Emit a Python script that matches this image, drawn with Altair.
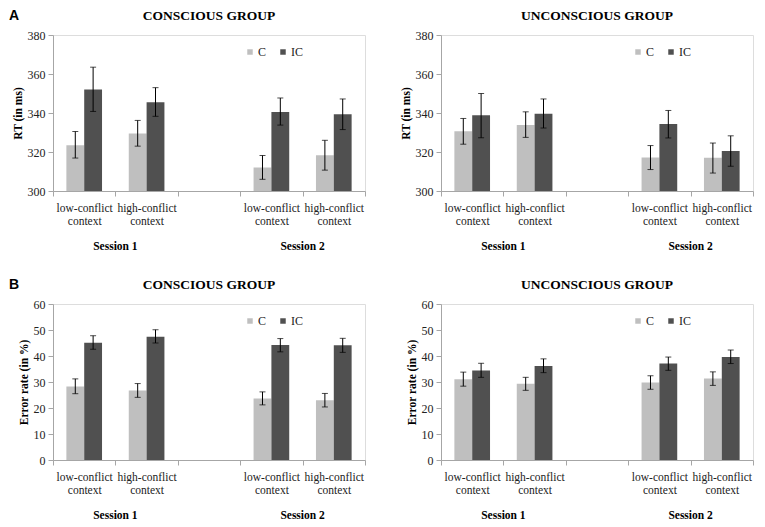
import altair as alt
import pandas as pd

# ---------------- data ----------------
ctx_keys = ["low-conflict context|S1", "high-conflict context|S1", "|gap",
            "low-conflict context|S2", "high-conflict context|S2"]
data_keys = ["low-conflict context|S1", "high-conflict context|S1",
             "low-conflict context|S2", "high-conflict context|S2"]
conds = ["C", "IC"]
sessions = ["Session 1", "Session 2"]
session_pos = ["high-conflict context|S1", "high-conflict context|S2"]

# RT conscious
rt_con_C = [323.5, 329.5, 312.0, 318.3]
rt_con_C_lo = [316.9, 323.0, 306.0, 310.7]
rt_con_C_hi = [330.5, 336.2, 318.2, 326.0]
rt_con_IC = [352.0, 345.5, 340.5, 339.3]
rt_con_IC_lo = [340.8, 338.3, 333.8, 331.5]
rt_con_IC_hi = [363.5, 353.0, 347.7, 347.2]

# RT unconscious
rt_unc_C = [330.6, 333.8, 317.2, 317.0]
rt_unc_C_lo = [324.0, 327.5, 311.0, 309.2]
rt_unc_C_hi = [337.2, 340.6, 323.3, 324.6]
rt_unc_IC = [338.8, 339.6, 334.3, 320.5]
rt_unc_IC_lo = [327.3, 332.3, 327.2, 312.7]
rt_unc_IC_hi = [350.0, 347.2, 341.3, 328.3]

# Error rate conscious
er_con_C = [28.3, 26.7, 23.7, 23.0]
er_con_C_lo = [25.5, 24.1, 21.2, 20.4]
er_con_C_hi = [31.2, 29.4, 26.2, 25.6]
er_con_IC = [45.1, 47.4, 44.2, 44.1]
er_con_IC_lo = [42.6, 45.0, 41.6, 41.4]
er_con_IC_hi = [47.8, 50.1, 46.7, 46.8]

# Error rate unconscious
er_unc_C = [31.1, 29.3, 29.8, 31.3]
er_unc_C_lo = [28.4, 26.8, 27.2, 28.7]
er_unc_C_hi = [33.8, 31.8, 32.4, 33.9]
er_unc_IC = [34.4, 36.2, 37.1, 39.6]
er_unc_IC_lo = [31.8, 33.6, 34.5, 37.1]
er_unc_IC_hi = [37.2, 38.9, 39.6, 42.3]

rt_ticks = [300, 320, 340, 360, 380]
er_ticks = [0, 10, 20, 30, 40, 50, 60]

# ---------------- styling ----------------
SERIF = "Liberation Serif"
W, H = 312, 156
GRAY = "#a6a6a6"
colors = ["#bfbfbf", "#505050"]


def panel(title, ytitle, ydom, yticks, C, Clo, Chi, IC, IClo, IChi, letter=None):
    rows = []
    for i, k in enumerate(data_keys):
        rows.append({"ctx": k, "cond": "C", "v": C[i], "lo": Clo[i], "hi": Chi[i]})
        rows.append({"ctx": k, "cond": "IC", "v": IC[i], "lo": IClo[i], "hi": IChi[i]})
    df = pd.DataFrame(rows)

    xaxis = alt.Axis(title=None, labelAngle=0, tickBand="extent",
                     labelExpr="split(split(datum.label, '|')[0], ' ')",
                     labelFont=SERIF, labelFontSize=11.5, labelColor="#222",
                     labelLineHeight=13, labelPadding=6,
                     domainColor=GRAY, tickColor=GRAY, tickSize=5)
    xscale = alt.Scale(domain=ctx_keys, paddingInner=0, paddingOuter=0)

    def xenc():
        return alt.X("ctx:N", scale=xscale, sort=ctx_keys, axis=xaxis)

    xoff = alt.XOffset("cond:N", scale=alt.Scale(domain=conds, paddingOuter=0.75, paddingInner=0))
    yscale = alt.Scale(domain=ydom, nice=False, zero=False)
    yaxis = alt.Axis(title=ytitle, values=yticks, grid=False,
                     labelFont=SERIF, labelFontSize=12, labelColor="#222",
                     titleFont=SERIF, titleFontSize=11.5, titleFontWeight="bold",
                     titleColor="#000", titlePadding=4,
                     domainColor=GRAY, tickColor=GRAY, tickSize=5, labelPadding=3)

    def yenc(f):
        return alt.Y(f, type="quantitative", scale=yscale, axis=yaxis)

    base = alt.Chart(df)
    bars = base.mark_bar(clip=True).encode(
        x=xenc(), xOffset=xoff, y=yenc("v"),
        color=alt.Color("cond:N", scale=alt.Scale(domain=conds, range=colors),
                        legend=alt.Legend(title=None, orient="none", legendX=191, legendY=11,
                                          direction="horizontal", symbolType="square",
                                          symbolSize=30, symbolStrokeWidth=0,
                                          labelFont=SERIF, labelFontSize=12, labelColor="#222",
                                          labelOffset=2, columnPadding=10)),
    )
    rules = base.mark_rule(color="black", strokeWidth=1).encode(
        x=xenc(), xOffset=xoff, y=yenc("lo"), y2="hi:Q")
    tlo = base.mark_tick(color="black", orient="horizontal", size=6, thickness=1).encode(
        x=xenc(), xOffset=xoff, y=yenc("lo"))
    thi = base.mark_tick(color="black", orient="horizontal", size=6, thickness=1).encode(
        x=xenc(), xOffset=xoff, y=yenc("hi"))

    sdf = pd.DataFrame({"ctx": session_pos, "s": sessions})
    stext = alt.Chart(sdf).mark_text(font=SERIF, fontSize=11.5, fontWeight="bold",
                                     color="#000", baseline="middle").encode(
        x=alt.X("ctx:N", bandPosition=0, scale=xscale, sort=ctx_keys, axis=xaxis),
        y=alt.value(H + 56), text="s:N")

    tdf = pd.DataFrame({"t": [title]})
    ttext = alt.Chart(tdf).mark_text(font=SERIF, fontSize=13.5, fontWeight="bold",
                                     color="#000", baseline="middle", align="center").encode(
        x=alt.value(W / 2), y=alt.value(-19), text="t:N")

    layers = [bars, rules, tlo, thi, stext, ttext]
    if letter is not None:
        ldf = pd.DataFrame({"t": [letter]})
        ltext = alt.Chart(ldf).mark_text(font="Liberation Sans", fontSize=14, fontWeight="bold",
                                         color="#000", align="left", baseline="middle").encode(
            x=alt.value(-44), y=alt.value(-19), text="t:N")
        layers.append(ltext)

    return alt.layer(*layers).properties(width=W, height=H)


p1 = panel("CONSCIOUS GROUP", "RT (in ms)", [300, 380], rt_ticks,
           rt_con_C, rt_con_C_lo, rt_con_C_hi, rt_con_IC, rt_con_IC_lo, rt_con_IC_hi, "A")
p2 = panel("UNCONSCIOUS GROUP", "RT (in ms)", [300, 380], rt_ticks,
           rt_unc_C, rt_unc_C_lo, rt_unc_C_hi, rt_unc_IC, rt_unc_IC_lo, rt_unc_IC_hi)
p3 = panel("CONSCIOUS GROUP", "Error rate (in %)", [0, 60], er_ticks,
           er_con_C, er_con_C_lo, er_con_C_hi, er_con_IC, er_con_IC_lo, er_con_IC_hi, "B")
p4 = panel("UNCONSCIOUS GROUP", "Error rate (in %)", [0, 60], er_ticks,
           er_unc_C, er_unc_C_lo, er_unc_C_hi, er_unc_IC, er_unc_IC_lo, er_unc_IC_hi)

chart = alt.concat(p1, p2, p3, p4, columns=2, spacing={"row": 24, "column": 33}).resolve_scale(
    color="independent", y="independent", x="independent"
).properties(padding={"left": 0, "top": 0, "right": 0, "bottom": 0}).configure_view(
    stroke=GRAY, strokeWidth=1
).configure(background="white")

chart.save("out.html", embed_options={"renderer": "svg", "actions": False})
